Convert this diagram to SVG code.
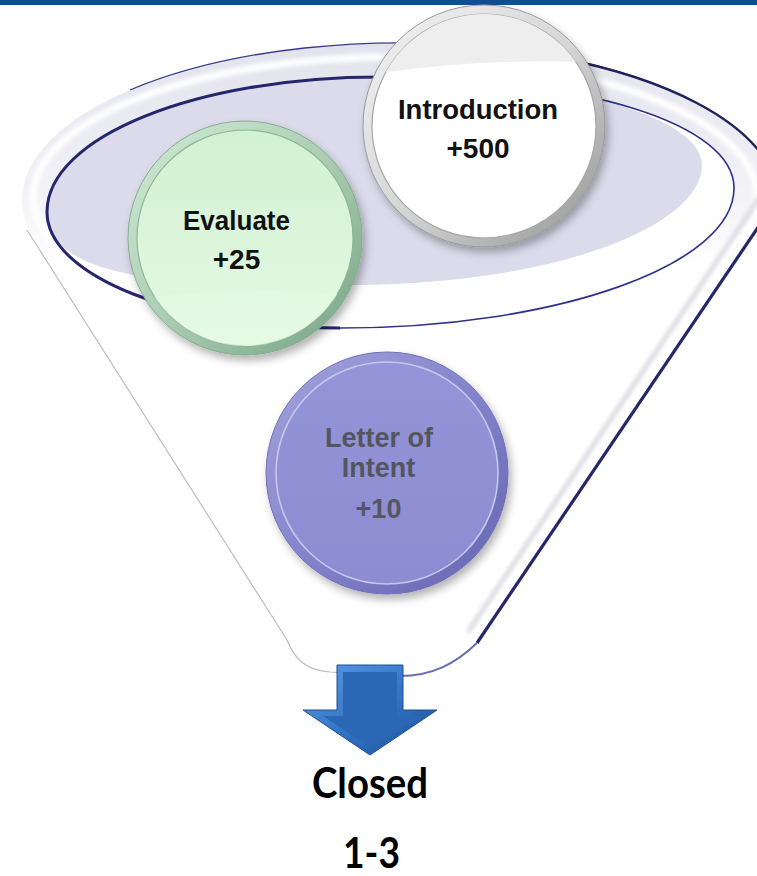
<svg xmlns="http://www.w3.org/2000/svg" width="757" height="876" viewBox="0 0 757 876">
  <style>
    .lbl { font-family: "Liberation Sans", Arial, sans-serif; font-weight: 700; font-size: 28px; text-anchor: middle; fill: #111; }
    .lbl-loi { font-family: "Liberation Sans", Arial, sans-serif; font-weight: 700; font-size: 27px; text-anchor: middle; fill: #55555f; }
    .big { font-family: Lato, "Open Sans", "Liberation Sans", sans-serif; font-weight: 700; font-size: 42px; text-anchor: middle; fill: #000; }
  </style>
  <defs>
    <filter id="shadow" x="-20%" y="-20%" width="140%" height="140%">
      <feDropShadow dx="3" dy="5" stdDeviation="4" flood-color="#000" flood-opacity="0.3"/>
    </filter>
    <filter id="soft" x="-10%" y="-10%" width="120%" height="120%">
      <feGaussianBlur stdDeviation="2"/>
    </filter>
    <clipPath id="funnelClip">
      <path d="M0,0 L912,0 L320,876 L0,876 Z"/>
    </clipPath>
    <clipPath id="innerClip">
      <path d="M47,212 C47,137 196,77 380,77 C585,77 734,124 734,188 C734,265 557,328 340,328 C179,328 47,276 47,212 Z"/>
    </clipPath>
    <clipPath id="introClip"><circle cx="484" cy="126" r="112"/></clipPath>
    <clipPath id="evalClip"><circle cx="245" cy="238" r="108"/></clipPath>
    <linearGradient id="rimFill" gradientUnits="userSpaceOnUse" x1="0" y1="43" x2="0" y2="360">
      <stop offset="0" stop-color="#e2e2ec"/>
      <stop offset="0.45" stop-color="#f1f1f6"/>
      <stop offset="0.7" stop-color="#ffffff"/>
    </linearGradient>
    <linearGradient id="ringGray" x1="0" y1="0" x2="1" y2="1">
      <stop offset="0" stop-color="#f4f4f4"/>
      <stop offset="0.5" stop-color="#d6d6d6"/>
      <stop offset="1" stop-color="#929292"/>
    </linearGradient>
    <linearGradient id="ringGreen" x1="0" y1="0" x2="1" y2="1">
      <stop offset="0" stop-color="#d2ecd7"/>
      <stop offset="0.5" stop-color="#abcdb3"/>
      <stop offset="1" stop-color="#74a281"/>
    </linearGradient>
    <linearGradient id="fillGreen" x1="0" y1="0" x2="0" y2="1">
      <stop offset="0" stop-color="#d2f1d2"/>
      <stop offset="1" stop-color="#e4f9e4"/>
    </linearGradient>
    <linearGradient id="ringBlue" x1="0" y1="0" x2="1" y2="1">
      <stop offset="0" stop-color="#a4a4dc"/>
      <stop offset="0.5" stop-color="#8484cc"/>
      <stop offset="1" stop-color="#6464b0"/>
    </linearGradient>
    <linearGradient id="fillBlue" x1="0" y1="0" x2="0" y2="1">
      <stop offset="0" stop-color="#9494d8"/>
      <stop offset="1" stop-color="#8c8cd2"/>
    </linearGradient>
    <linearGradient id="arrowEdge" x1="0" y1="0" x2="1" y2="1">
      <stop offset="0" stop-color="#5c9be4"/>
      <stop offset="0.5" stop-color="#3476c6"/>
      <stop offset="1" stop-color="#1b4d94"/>
    </linearGradient>
  </defs>

  <rect width="757" height="876" fill="#fff"/>
  <rect id="top-bar" x="0" y="0" width="757" height="5" fill="#124e8e"/>

  <!-- funnel body -->
  <g id="funnel">
    <g clip-path="url(#funnelClip)">
      <path d="M27,228 L287,640 C295,660 306,670 330,672 L400,676 C432,676 455,664 477,643 L800,165 L400,200 Z" fill="#fff"/>
      <ellipse cx="400" cy="200" rx="378" ry="157" fill="url(#rimFill)"/>
      <!-- highlight on the rim -->
      <ellipse cx="395" cy="197" rx="362" ry="140" fill="none" stroke="#fff" stroke-width="7" filter="url(#soft)"/>
      <!-- outer rim line -->
      <path d="M130,90 A378,157 0 0 1 770,168" fill="none" stroke="#3a3a8c" stroke-width="1.3"/>
      <path d="M560,58 A378,157 0 0 1 770,168" fill="none" stroke="#22225e" stroke-width="2.4"/>
      <!-- inner shading along the right wall -->
      <path d="M778,170 L468,632" fill="none" stroke="#d4d4dc" stroke-width="4" filter="url(#soft)"/>
    </g>
    <!-- opening of the funnel -->
    <path d="M47,212 C47,137 196,77 380,77 C585,77 734,124 734,188 C734,265 557,328 340,328 C179,328 47,276 47,212 Z" fill="#fff"/>
    <path clip-path="url(#innerClip)" d="M47,212 C47,137 196,77 380,77 C560,77 702,115 702,165 C702,225 560,283 360,285 C200,287 47,285 47,212 Z" fill="#dbdbeb"/>
    <path d="M47,212 C47,137 196,77 380,77 C585,77 734,124 734,188 C734,265 557,328 340,328 C179,328 47,276 47,212 Z" fill="none" stroke="#30308a" stroke-width="1.6"/>
    <path d="M380,77 C196,77 47,137 47,212 C47,276 179,328 340,328" fill="none" stroke="#26266e" stroke-width="3"/>
    <!-- funnel edges -->
    <path d="M27,230 L287,640 C295,660 306,670 330,672 L400,676" fill="none" stroke="#bcbcc8" stroke-width="1.2"/>
    <path d="M790,180 L477,643" fill="none" stroke="#26266a" stroke-width="3.2"/>
    <path d="M477,643 C455,664 432,676 400,676" fill="none" stroke="#6c6cb0" stroke-width="2"/>
  </g>

  <!-- Introduction -->
  <g id="node-introduction">
    <circle cx="484" cy="126" r="121" fill="url(#ringGray)" stroke="#9a9a9a" stroke-width="1" filter="url(#shadow)"/>
    <circle cx="484" cy="126" r="112" fill="#fff" stroke="#a6a6a6" stroke-width="1.2"/>
    <path clip-path="url(#introClip)" d="M360,0 L610,0 L610,64 C540,58 450,62 360,76 Z" fill="#eeeeee"/>
    <text class="lbl" x="478" y="119" textLength="160" lengthAdjust="spacingAndGlyphs">Introduction</text>
    <text class="lbl" x="478" y="158">+500</text>
  </g>

  <!-- Evaluate -->
  <g id="node-evaluate">
    <circle cx="245" cy="238" r="117" fill="url(#ringGreen)" stroke="#86ad90" stroke-width="1" filter="url(#shadow)"/>
    <circle cx="245" cy="238" r="108" fill="url(#fillGreen)" stroke="#8fb598" stroke-width="1.2"/>
    <path clip-path="url(#evalClip)" d="M130,300 C190,290 290,288 360,296 L360,360 L130,360 Z" fill="#e6fae6" opacity="0.7"/>
    <text class="lbl" x="236.5" y="230" textLength="107" lengthAdjust="spacingAndGlyphs">Evaluate</text>
    <text class="lbl" x="236.5" y="269">+25</text>
  </g>

  <!-- Letter of Intent -->
  <g id="node-letter-of-intent">
    <circle cx="387" cy="473" r="121" fill="url(#ringBlue)" stroke="#7070b8" stroke-width="1" filter="url(#shadow)"/>
    <circle cx="387" cy="473" r="111" fill="url(#fillBlue)" stroke="#c6c6f0" stroke-width="1.6"/>
    <text class="lbl-loi" x="379" y="447">Letter of</text>
    <text class="lbl-loi" x="378.5" y="477">Intent</text>
    <text class="lbl-loi" x="378.5" y="518">+10</text>
  </g>

  <!-- outflow arrow -->
  <g id="connectors">
    <path d="M337,665 L403,665 L403,710 L437,710 L370,755 L303,710 L337,710 Z" fill="url(#arrowEdge)" stroke="#1d4f94" stroke-width="1"/>
    <path d="M343,672 L397,672 L397,716 L423,716 L370,747 L323,716 L343,716 Z" fill="#2c67b6"/>
  </g>

  <g id="result">
    <text class="big" x="370" y="798" textLength="116" lengthAdjust="spacingAndGlyphs">Closed</text>
    <text class="big" x="371.5" y="868" font-size="38" textLength="57" lengthAdjust="spacingAndGlyphs">1-3</text>
  </g>
</svg>
